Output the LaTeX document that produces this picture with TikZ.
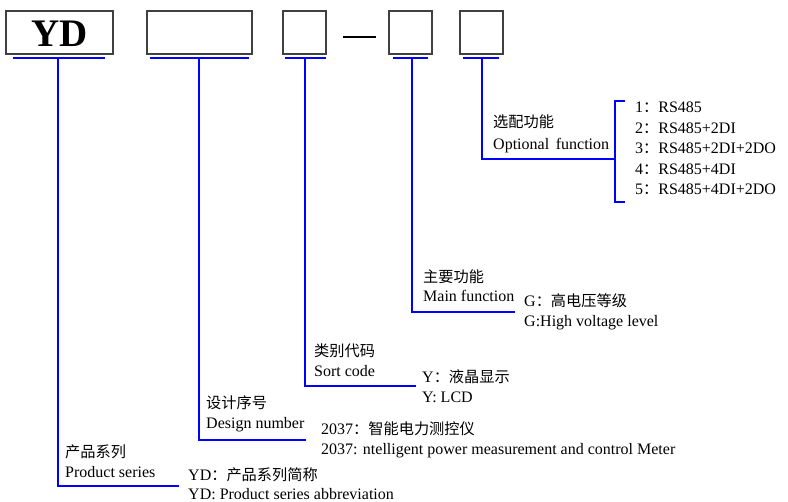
\documentclass[tikz,border=0pt]{standalone}
\usepackage{fontspec}
\setmainfont{Liberation Serif}
\newfontfamily\cjk[Scale=0.95]{Noto Sans CJK SC}
\begin{document}
\begin{tikzpicture}[x=1pt,y=-1pt,
  box/.style={draw=black!75,line width=1.2pt},
  bl/.style={draw=blue,line width=1.8pt},
  txt/.style={anchor=base west,inner sep=0pt,font=\fontsize{16}{18}\selectfont}]
\useasboundingbox (0,0) rectangle (788,502);
% boxes
\draw[box] (6,11) rectangle (113,54);
\node[inner sep=0pt,font=\fontsize{39}{40}\selectfont\bfseries] (yd) at (59.5,33.5) {YD};
\draw[box] (147,11) rectangle (252,54);
\draw[box] (283,11) rectangle (326,54);
\draw[black,line width=1.8pt] (343,36.7) -- (376,36.7);
\draw[box] (389,11) rectangle (432,54);
\draw[box] (460,11) rectangle (503,54);
% bars
\coordinate (a1) at (13,57.7); \coordinate (a2) at (105,57.7); \coordinate (am) at (58,57.7);
\coordinate (b1) at (150,57.7); \coordinate (b2) at (249,57.7); \coordinate (bm) at (199,57.7);
\coordinate (c1) at (285,57.7); \coordinate (c2) at (326,57.7); \coordinate (cm) at (305,57.7);
\coordinate (d1) at (393,57.7); \coordinate (d2) at (428,57.7); \coordinate (dm) at (412,57.7);
\coordinate (e1) at (463,57.7); \coordinate (e2) at (499,57.7); \coordinate (em) at (482,57.7);
\draw[bl] (a1) -- (a2); \draw[bl] (b1) -- (b2); \draw[bl] (c1) -- (c2);
\draw[bl] (d1) -- (d2); \draw[bl] (e1) -- (e2);
% connector ends
\coordinate (ae) at (179,486);
\coordinate (be) at (306,440);
\coordinate (ce) at (416,386);
\coordinate (de) at (515,312);
\coordinate (ee) at (615,159);
\draw[bl] (am) |- (ae);
\draw[bl] (bm) |- (be);
\draw[bl] (cm) |- (ce);
\draw[bl] (dm) |- (de);
\draw[bl] (em) |- (ee);
\coordinate (kt) at (615,101); \coordinate (kb) at (615,202);
\draw[bl] (625,101) -- (kt) -- (kb) -- (625,202);
% optional function
\node[txt] (o1) at (493,128) {\cjk 选配功能};
\node[txt] (o2) at (493,150) {Optional\, function};
\node[txt] (i1) at (635,113) {1{\cjk ：}RS485};
\node[txt] (i2) at (635,133.5) {2{\cjk ：}RS485+2DI};
\node[txt] (i3) at (635,154) {3{\cjk ：}RS485+2DI+2DO};
\node[txt] (i4) at (635,174.5) {4{\cjk ：}RS485+4DI};
\node[txt] (i5) at (635,195) {5{\cjk ：}RS485+4DI+2DO};
% main function
\node[txt] (m1) at (423,283) {\cjk 主要功能};
\node[txt] (m2) at (423,302) {Main function};
\node[txt] (g1) at (524,307) {G{\cjk ：高电压等级}};
\node[txt] (g2) at (524,327) {G:High voltage level};
% sort code
\node[txt] (s1) at (314,357) {\cjk 类别代码};
\node[txt] (s2) at (314,377) {Sort code};
\node[txt] (y1) at (422,383) {Y{\cjk ：液晶显示}};
\node[txt] (y2) at (422,403) {Y: LCD};
% design number
\node[txt] (n1) at (206,409) {\cjk 设计序号};
\node[txt] (n2) at (206,429) {Design number};
\node[txt] (z1) at (321,435) {2037{\cjk ：智能电力测控仪}};
\node[txt] (z2) at (321,455) {2037: ntelligent power measurement and control Meter};
% product series
\node[txt] (p1) at (65,458) {\cjk 产品系列};
\node[txt] (p2) at (65,478) {Product series};
\node[txt] (q1) at (188,481) {YD{\cjk ：产品系列简称}};
\node[txt] (q2) at (188,500) {YD: Product series abbreviation};
\end{tikzpicture}
\end{document}
